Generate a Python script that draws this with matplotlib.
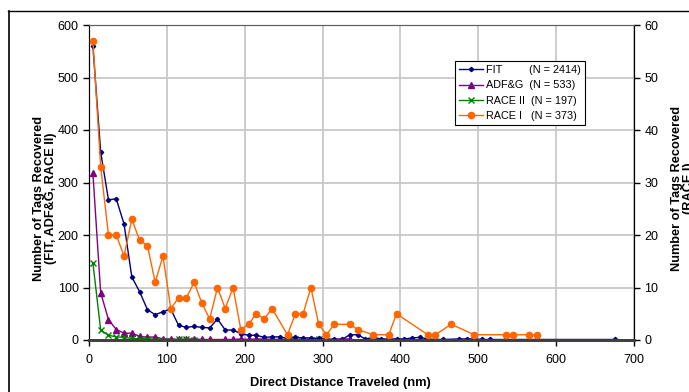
import matplotlib
matplotlib.use("Agg")

import matplotlib.pyplot as plt
from matplotlib.lines import Line2D

plt.rcParams['font.family'] = ['Liberation Sans', 'DejaVu Sans']

# ---------------- Data ----------------
fit_x = [5, 15, 25, 35, 45, 55, 65, 75, 85, 95, 105, 115, 125, 135, 145, 155,
         165, 175, 185, 195, 205, 215, 225, 235, 245, 255, 265, 275, 285, 295,
         305, 315, 325, 335, 345, 355, 365, 375, 385, 395, 405, 415, 425, 435,
         445, 455, 475, 485, 495, 505, 515, 535, 575, 675]
fit_y = [560, 358, 267, 269, 221, 120, 92, 58, 48, 54, 59, 28, 24, 26, 24, 23,
         40, 19, 19, 12, 9, 9, 5, 6, 6, 3, 5, 4, 4, 3,
         1, 1, 1, 10, 10, 2, 5, 2, 2, 2, 2, 4, 5, 2,
         1, 1, 2, 2, 2, 1, 1, 1, 1, 1]

adfg_x = [5, 15, 25, 35, 45, 55, 65, 75, 85, 95, 105, 115, 125, 135, 145, 155,
          175, 185, 195, 205, 215, 245, 255, 335]
adfg_y = [318, 90, 39, 20, 13, 13, 7, 5, 6, 2, 2, 1, 2, 2, 1, 1,
          1, 1, 2, 1, 2, 1, 1, 2]

race2_x = [5, 15, 25, 35, 45, 55, 65, 75, 115, 125, 135, 265, 295]
race2_y = [147, 19, 9, 6, 5, 3, 2, 2, 1, 1, 0, 1, 1]

race1_x = [5, 15, 25, 35, 45, 55, 65, 75, 85, 95, 105, 115, 125, 135, 145, 155,
           165, 175, 185, 195, 205, 215, 225, 235, 255, 265, 275, 285, 295, 305,
           315, 335, 345, 365, 385, 395, 435, 445, 465, 495, 535, 545, 565, 575]
race1_y = [57, 33, 20, 20, 16, 23, 19, 18, 11, 16, 6, 8, 8, 11, 7, 4,
           10, 6, 10, 2, 3, 5, 4, 6, 1, 5, 5, 10, 3, 1,
           3, 3, 2, 1, 1, 5, 1, 1, 3, 1, 1, 1, 1, 1]

labels = ["FIT         (N = 2414)",
          "ADF&G  (N = 533)",
          "RACE II  (N = 197)",
          "RACE I   (N = 373)"]

# ---------------- Figure ----------------
fig = plt.figure(figsize=(6.89, 3.92), dpi=100)
ax = fig.add_axes([89 / 689, 52 / 392, 545 / 689, 315 / 392])
ax2 = ax.twinx()

h1, = ax.plot(fit_x, fit_y, color="#000080", marker="D", markersize=2.2,
              lw=1, label=labels[0], zorder=4)
h2, = ax.plot(adfg_x, adfg_y, color="#800080", marker="^", markersize=4.5,
              lw=1, label=labels[1], zorder=3)
h3, = ax.plot(race2_x, race2_y, color="#008000", marker="x", markersize=4.5,
              mew=1, lw=1, label=labels[2], zorder=3)
h4, = ax2.plot(race1_x, race1_y, color="#FF6600", marker="o", markersize=4.5,
               lw=1, label=labels[3], zorder=3)

ax.set_xlim(0, 700)
ax.set_ylim(0, 600)
ax2.set_ylim(0, 60)
ax.set_xticks(range(0, 701, 100))
ax.set_yticks(range(0, 601, 100))
ax2.set_yticks(range(0, 61, 10))

ax.grid(True, color="#C8C8C8", lw=1.3)
ax.set_axisbelow(True)

for a in (ax, ax2):
    a.tick_params(labelsize=9, length=4, width=1, color="black")
    a.spines["top"].set_color("#606060")
    a.spines["left"].set_color("black")
    a.spines["right"].set_color("black")
    a.spines["bottom"].set_color("#404040")
    a.spines["bottom"].set_linewidth(2)

ax.tick_params(axis="x", pad=6)

fig.text(45 / 689, 1 - 198 / 392,
         "Number of Tags Recovered\n(FIT, ADF&G, RACE II)",
         rotation=90, ha="center", va="center", fontsize=9.2,
         fontweight="bold", linespacing=1.1)
fig.text(683 / 689, 1 - 188 / 392,
         "Number of Tags Recovered\n(RACE I)",
         rotation=90, ha="center", va="center", fontsize=9.2,
         fontweight="bold", linespacing=1.1)
fig.text(340 / 689, 1 - 383 / 392, "Direct Distance Traveled (nm)",
         ha="center", va="center", fontsize=9.3, fontweight="bold")

leg = ax.legend(handles=[h1, h2, h3, h4], loc="upper left",
                bbox_to_anchor=(0.672, 0.885), fontsize=7.8, frameon=True,
                fancybox=False, edgecolor="black", framealpha=1,
                handlelength=2.2, handletextpad=0.3, borderpad=0.35,
                labelspacing=0.5, borderaxespad=0)
leg.get_frame().set_linewidth(0.8)
leg.set_zorder(10)

# outer border of the chart area
fig.add_artist(Line2D([8.5 / 689, 8.5 / 689], [0, 1 - 11 / 392],
                      transform=fig.transFigure, color="black", lw=1.2))
fig.add_artist(Line2D([8 / 689, 1], [1 - 11 / 392, 1 - 11 / 392],
                      transform=fig.transFigure, color="black", lw=1))

fig.savefig("out.png", dpi=100)
plt.close()
